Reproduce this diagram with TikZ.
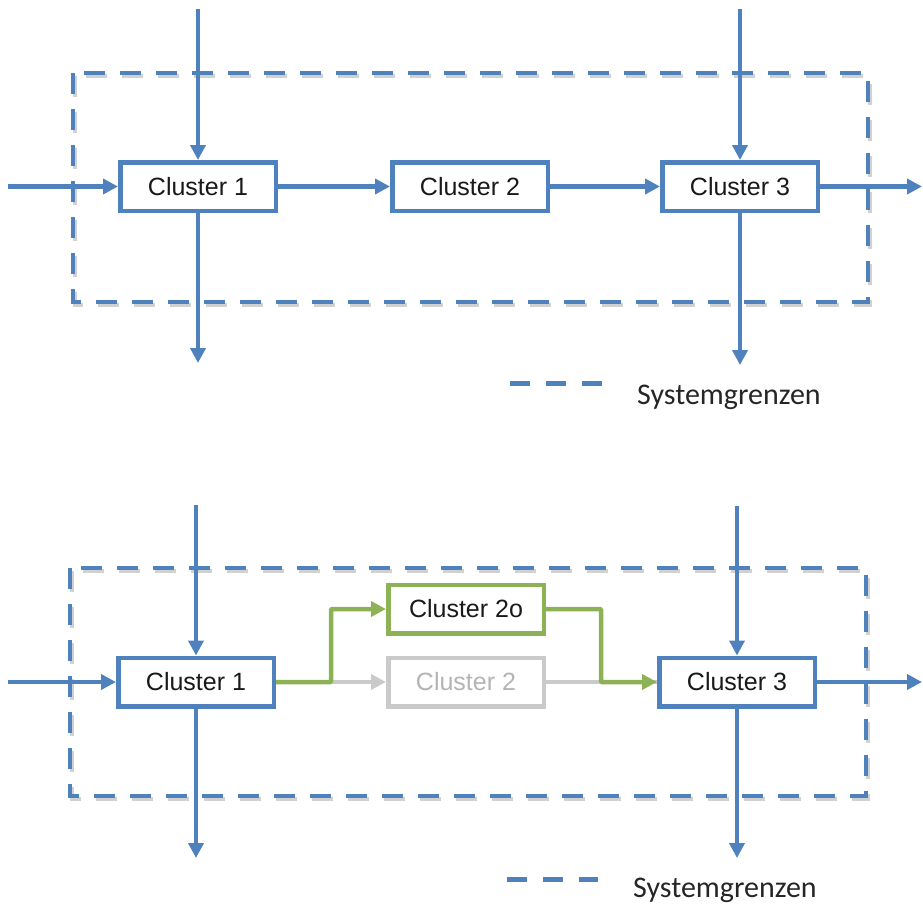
\documentclass[tikz,border=0pt]{standalone}
\usepackage{fontspec}
\setmainfont{Liberation Sans}
\newfontfamily\legendfont{Carlito}
\usetikzlibrary{arrows.meta,shadows}

\definecolor{flowblue}{HTML}{4F81BD}
\definecolor{altgreen}{HTML}{8DB255}
\definecolor{oldgray}{HTML}{CACACA}
\definecolor{oldtext}{HTML}{B4B4B4}

\tikzset{
  tip/.style={-{Triangle[length=15pt,width=15pt]}},
  flow/.style={draw=flowblue, line width=4.5pt},
  clusterbox/.style={draw=flowblue, line width=4.5pt, fill=white,
    minimum width=155.5pt, minimum height=48.5pt, inner sep=0pt,
    font=\fontsize{25}{30}\selectfont, text=black!90,
    drop shadow={shadow xshift=1.5pt, shadow yshift=-2.5pt, opacity=0.25}},
  greenbox/.style={clusterbox, draw=altgreen},
  graybox/.style={clusterbox, draw=oldgray, text=oldtext,
    drop shadow={shadow xshift=1.5pt, shadow yshift=-2.5pt, opacity=0.12}},
  greenflow/.style={draw=altgreen, line width=4.5pt},
  grayflow/.style={draw=oldgray, line width=4.5pt},
  boundary/.style={draw=flowblue, line width=4.5pt, dash pattern=on 21pt off 15pt},
  boundshadow/.style={draw=black, opacity=0.18, line width=4.5pt, dash pattern=on 21pt off 15pt},
  legendtext/.style={anchor=west, inner sep=0pt, font=\legendfont\fontsize{30}{36}\selectfont, text=black!85},
}

\begin{document}
\begin{tikzpicture}[x=1pt, y=-1pt]
\useasboundingbox (0,0) rectangle (923,906);

% ---------- upper scheme ----------
\draw[boundshadow] (75,76) rectangle (870,305);
\draw[boundary] (73,73) rectangle (868,302);

\node[clusterbox] (a1) at (198,186.5) {Cluster 1};
\node[clusterbox] (a2) at (470,186.5) {Cluster 2};
\node[clusterbox] (a3) at (740,186.5) {Cluster 3};

\coordinate (a1in)  at (198,9);
\coordinate (a1out) at (198,363);
\coordinate (a3in)  at (740,9);
\coordinate (a3out) at (740,365);
\coordinate (ain)   at (8,186.5);
\coordinate (aout)  at (922,186.5);

\draw[flow,tip] (ain) -- (a1.west);
\draw[flow,tip] (a1in) -- (a1.north);
\draw[flow,tip] (a1.south) -- (a1out);
\draw[flow,tip] (a1.east) -- (a2.west);
\draw[flow,tip] (a2.east) -- (a3.west);
\draw[flow,tip] (a3in) -- (a3.north);
\draw[flow,tip] (a3.south) -- (a3out);
\draw[flow,tip] (a3.east) -- (aout);

% legend
\draw[draw=flowblue, line width=5pt, dash pattern=on 20pt off 16pt] (510,383) -- (602,383);
\node[legendtext] (alegend) at (637,397) {Systemgrenzen};

% ---------- lower scheme ----------
\draw[boundshadow] (72,571) rectangle (868,799);
\draw[boundary] (70,568) rectangle (866,796);

\node[clusterbox] (b1)  at (196,682) {Cluster 1};
\node[greenbox]   (b2o) at (466,609) {Cluster 2o};
\node[graybox]    (b2)  at (466,682) {Cluster 2};
\node[clusterbox] (b3)  at (737,682) {Cluster 3};

\coordinate (b1in)  at (196,505);
\coordinate (b1out) at (196,858);
\coordinate (b3in)  at (737,506);
\coordinate (b3out) at (737,858);
\coordinate (bin)   at (8,682);
\coordinate (bout)  at (922,682);

\draw[flow,tip] (bin) -- (b1.west);
\draw[flow,tip] (b1in) -- (b1.north);
\draw[flow,tip] (b1.south) -- (b1out);
\draw[flow,tip] (b3in) -- (b3.north);
\draw[flow,tip] (b3.south) -- (b3out);
\draw[flow,tip] (b3.east) -- (bout);

% former route through Cluster 2
\draw[grayflow,tip] (b1.east) -- (b2.west);
\draw[grayflow] (b2.east) -- (b3.west);

% new route through Cluster 2o
\draw[greenflow,tip,rounded corners=1pt] (b1.east) -- ++(55,0) |- (b2o.west);
\draw[greenflow,tip,rounded corners=1pt] (b2o.east) -- ++(55,0) |- (b3.west);

% legend
\draw[draw=flowblue, line width=5pt, dash pattern=on 20pt off 16pt] (507,879) -- (598,879);
\node[legendtext] (blegend) at (633,890) {Systemgrenzen};
\end{tikzpicture}
\end{document}
